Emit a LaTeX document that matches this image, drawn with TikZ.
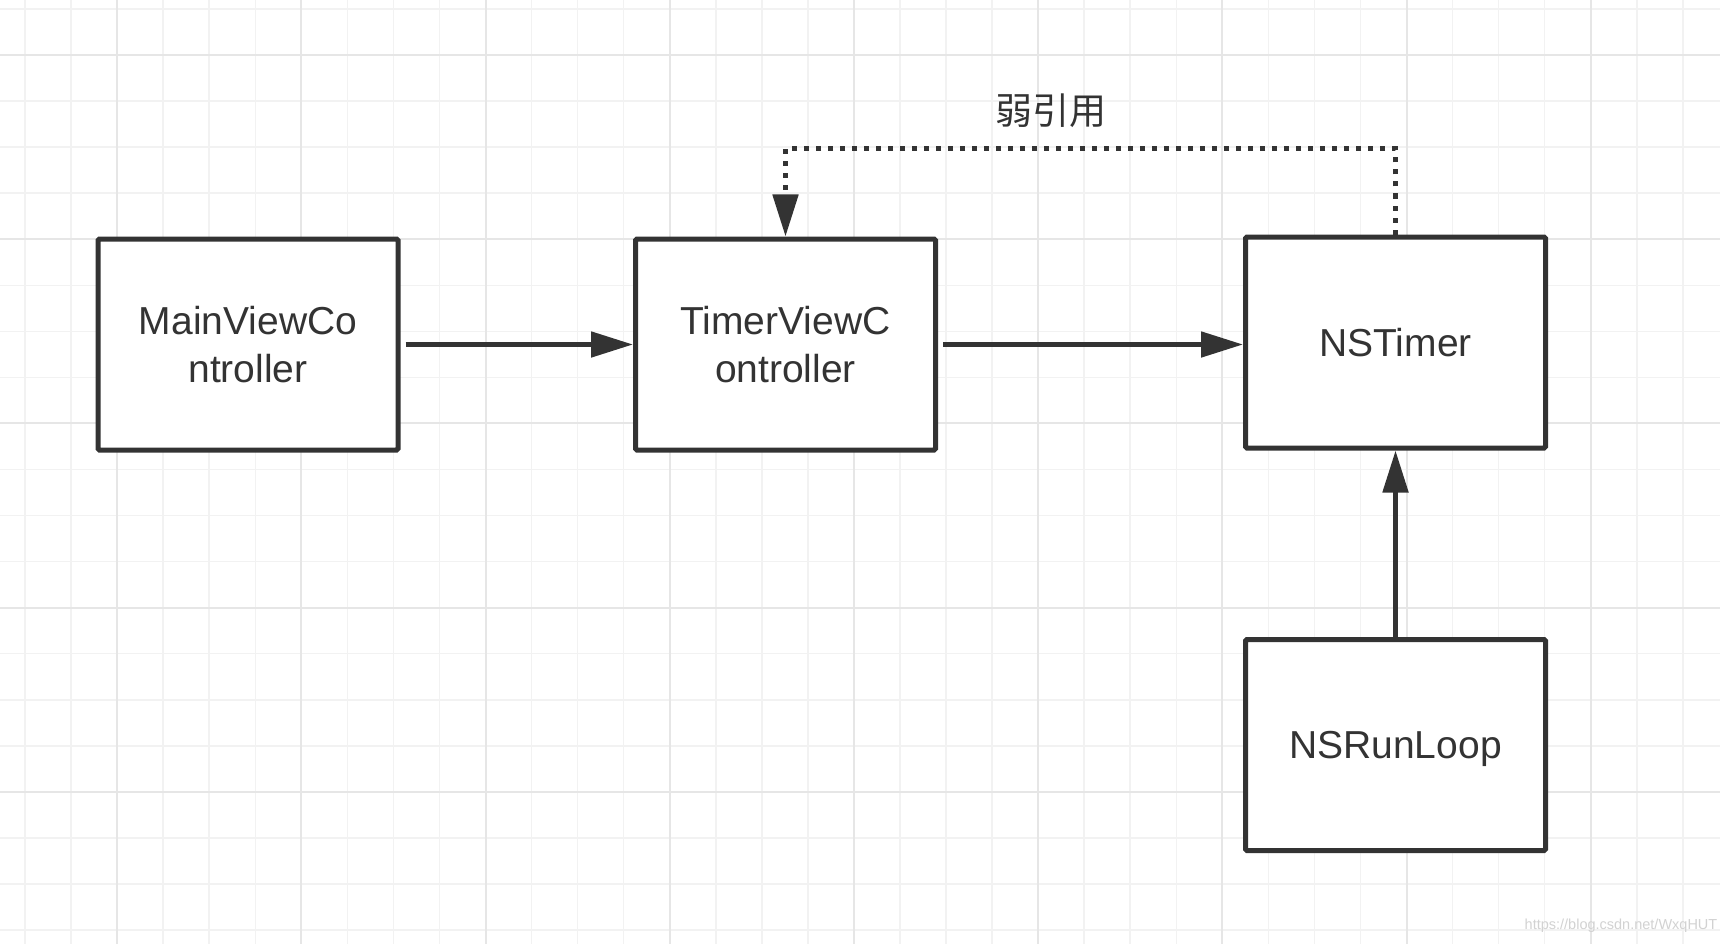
\documentclass[tikz,border=0pt]{standalone}
\usepackage{fontspec}
\setmainfont{Liberation Sans}
\newfontfamily\cjk{Noto Sans CJK SC}
\usepackage{tikz}
\usetikzlibrary{arrows.meta}
\definecolor{ink}{HTML}{333333}
\definecolor{gridminor}{HTML}{F2F2F2}
\definecolor{gridmajor}{HTML}{E6E6E6}

\tikzset{
  objbox/.style={draw=ink,line width=5pt,rounded corners=1.5pt,fill=white,
    minimum width=300pt,minimum height=211pt,align=center,text=ink,
    text depth=0pt,font=\fontsize{39}{48}\selectfont},
  strongref/.style={draw=ink,line width=5pt,-{Triangle[length=42pt,width=25pt]}},
  weakref/.style={draw=ink,line width=5pt,dash pattern=on 5pt off 7pt,
    -{Triangle[length=42pt,width=25pt]}},
}

\begin{document}
\begin{tikzpicture}[x=1pt,y=-1pt]
		\fill[white] (0,0) rectangle (1720,944);
		\useasboundingbox (0,0) rectangle (1720,944);
		% grid
		\foreach \i in {0,...,36} \draw[gridminor,line width=1.5pt] ({25+46.05*\i},0) -- ++(0,944);
		\foreach \i in {0,...,20} \draw[gridminor,line width=1.5pt] (0,{9+46.05*\i}) -- ++(1720,0);
		\foreach \i in {0,...,8} \draw[gridmajor,line width=2pt] ({117.1+184.2*\i},0) -- ++(0,944);
		\foreach \i in {0,...,4} \draw[gridmajor,line width=2pt] (0,{55+184.2*\i}) -- ++(1720,0);
		% objects
		\node[objbox] (main) at (248,344.5) {MainViewCo\\ntroller};
		\node[objbox] (ctrl) at (785.5,344.5) {TimerViewC\\ontroller};
		\node[objbox] (timer) at (1395.5,342.5) {NSTimer};
		\node[objbox] (loop) at (1395.5,745) {NSRunLoop};
		% references
		\draw[strongref,shorten <=5pt] (main.east) -- (ctrl.west);
		\draw[strongref,shorten <=5pt] (ctrl.east) -- (ctrl.east -| timer.west);
		\draw[strongref] (loop.north) -- (timer.south);
		\coordinate (weaktop) at (1050,149);
		\draw[weakref] (timer.north) |- (weaktop) -| (ctrl.north);
		\node[text=ink,font=\cjk\fontsize{37}{44}\selectfont] (weaklbl) at (1051,111) {弱引用};
		\node[text=gridmajor!80!gray,font=\fontsize{14.5}{18}\selectfont] (mark) at (1621,926) {https://blog.csdn.net/WxqHUT};
	\end{tikzpicture}
\end{document}
